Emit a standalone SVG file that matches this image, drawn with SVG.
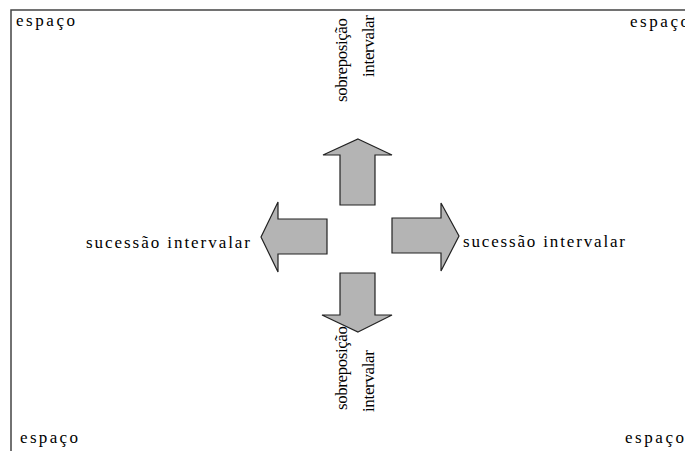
<svg xmlns="http://www.w3.org/2000/svg" width="685" height="451" viewBox="0 0 685 451">
<style>
.t{font-family:'Liberation Serif','DejaVu Serif',serif;font-size:17px;fill:#000}
.arrow{fill:#b4b4b4;stroke:#222;stroke-width:1.2;stroke-linejoin:miter}
.frame{stroke:#444;stroke-width:1.5;fill:none}
</style>
<rect width="685" height="451" fill="#fff"/>
<g id="frame">
<path class="frame" d="M11 451 V10 H685"/>
</g>
<g id="labels">
<text class="t" font-family="Liberation Serif, serif" x="16" y="26" textLength="59" lengthAdjust="spacing">espaço</text>
<text class="t" font-family="Liberation Serif, serif" x="630" y="27" textLength="59" lengthAdjust="spacing">espaço</text>
<text class="t" font-family="Liberation Serif, serif" x="20" y="443" textLength="58" lengthAdjust="spacing">espaço</text>
<text class="t" font-family="Liberation Serif, serif" x="625" y="443" textLength="59" lengthAdjust="spacing">espaço</text>
</g>
<g id="connectors">
<path id="arrow-up" class="arrow" d="M358 139 L392 155 L375 155 L375 205 L340 205 L340 155 L323 155 Z"/>
<path id="arrow-left" class="arrow" d="M261 237 L278 202 L278 219 L327 219 L327 254 L278 254 L278 272 Z"/>
<path id="arrow-right" class="arrow" d="M459 236 L441 203 L441 218 L392 218 L392 253 L441 253 L441 271 Z"/>
<path id="arrow-down" class="arrow" d="M358 332 L392 315 L375 315 L375 273 L340 273 L340 315 L322 315 Z"/>
</g>
<g id="node-top">
<text class="t" font-family="Liberation Serif, serif" transform="translate(347,102) rotate(-90)" textLength="84" lengthAdjust="spacing">sobreposição</text>
<text class="t" font-family="Liberation Serif, serif" transform="translate(374,77) rotate(-90)" textLength="62" lengthAdjust="spacing">intervalar</text>
</g>
<g id="node-left">
<text class="t" font-family="Liberation Serif, serif" x="86" y="248" textLength="164" lengthAdjust="spacing">sucessão intervalar</text>
</g>
<g id="node-right">
<text class="t" font-family="Liberation Serif, serif" x="463" y="247" textLength="162" lengthAdjust="spacing">sucessão intervalar</text>
</g>
<g id="node-bottom">
<text class="t" font-family="Liberation Serif, serif" transform="translate(347,410) rotate(-90)" textLength="84" lengthAdjust="spacing">sobreposição</text>
<text class="t" font-family="Liberation Serif, serif" transform="translate(374,412) rotate(-90)" textLength="62" lengthAdjust="spacing">intervalar</text>
</g>
</svg>
